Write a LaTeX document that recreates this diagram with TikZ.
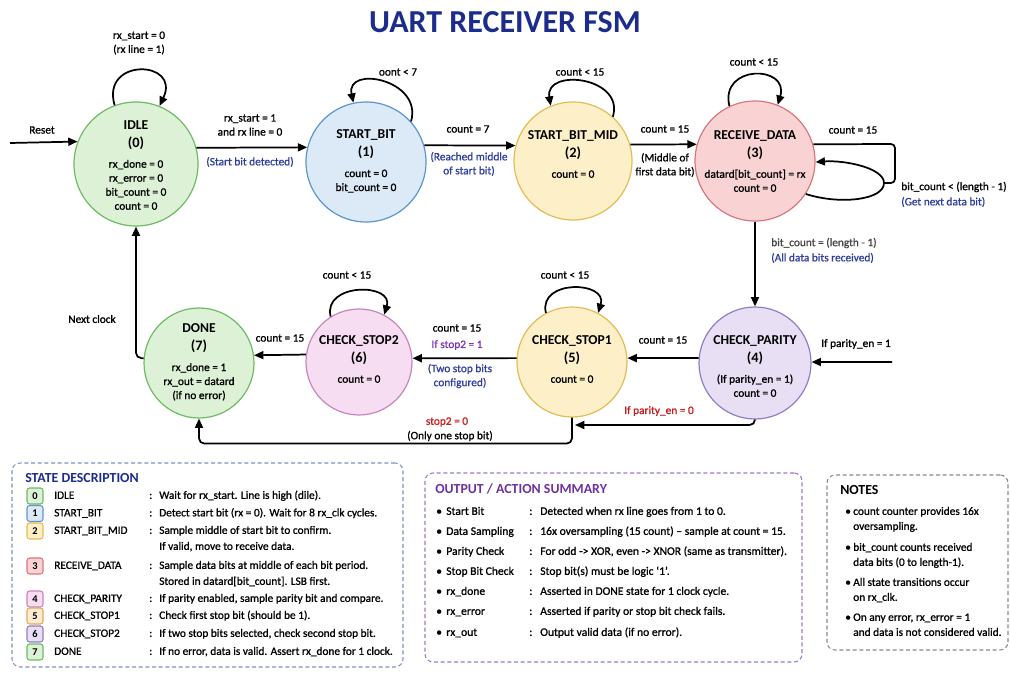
\documentclass[tikz,border=0pt]{standalone}
\usepackage{fontspec}
\setmainfont{Carlito}[UprightFeatures={FakeBold=1}]
\usetikzlibrary{arrows.meta}
\definecolor{titleblue}{HTML}{1C2C8C}
\definecolor{lblue}{HTML}{2F3E9E}
\definecolor{lpurple}{HTML}{7A35B0}
\definecolor{lred}{HTML}{C41E1E}
\definecolor{lgray}{HTML}{444444}
\definecolor{gfill}{HTML}{DDF1D6}\definecolor{gdraw}{HTML}{6DBB63}
\definecolor{bfill}{HTML}{DCEAF7}\definecolor{bdraw}{HTML}{5B96CF}
\definecolor{yfill}{HTML}{FDF0C8}\definecolor{ydraw}{HTML}{E2BC55}
\definecolor{rfill}{HTML}{F9D3D3}\definecolor{rdraw}{HTML}{D9777D}
\definecolor{pfill}{HTML}{E8DFF5}\definecolor{pdraw}{HTML}{8F7EC5}
\definecolor{kfill}{HTML}{F7DDF2}\definecolor{kdraw}{HTML}{C785BD}
\definecolor{ofill}{HTML}{FDEBD2}\definecolor{odraw}{HTML}{E3A85E}
\definecolor{descb}{HTML}{7F8FC4}
\definecolor{outb}{HTML}{9C7BC9}
\definecolor{noteb}{HTML}{8A8A8A}
\definecolor{outhead}{HTML}{7030A0}
\newcommand\stname{\fontsize{10.2}{12}\selectfont\bfseries}
\newcommand\stnum{\fontsize{10.8}{12}\selectfont\bfseries}
\begin{document}
\begin{tikzpicture}[x=0.75pt,y=-0.75pt,
  st/.style={circle, line width=0.9pt, inner sep=0pt},
  stt/.style={align=center, font=\fontsize{8.5}{10.5}\selectfont, inner sep=0pt},
  lbl/.style={align=center, font=\fontsize{8.5}{10.5}\selectfont, inner sep=0pt},
  arr/.style={-{Triangle[length=7pt,width=6pt]}, line width=1.3pt},
  line/.style={line width=1.3pt},
  box/.style={dash pattern=on 3pt off 2pt, rounded corners=6pt, line width=0.8pt, inner sep=0pt},
  badge/.style={rounded corners=2pt, minimum size=12pt, inner sep=0pt, line width=0.8pt, font=\fontsize{7.8}{9}\selectfont\bfseries},
  row/.style={anchor=west, inner sep=0pt, font=\fontsize{8.5}{10.5}\selectfont, text height=6.5pt, text depth=2.2pt, align=left},
  orow/.style={row, font=\fontsize{8.7}{10.5}\selectfont},
  head/.style={anchor=west, inner sep=0pt, font=\fontsize{10.4}{12}\selectfont\bfseries}
]
\useasboundingbox (0,0) rectangle (1010,673);

% title
\node[font=\fontsize{24}{28}\selectfont\bfseries, text=titleblue] (title) at (505,22) {UART RECEIVER FSM};

% states
\node[st, fill=gfill, draw=gdraw, minimum size=93pt] (idle) at (136,164) {};
\node[st, fill=bfill, draw=bdraw, minimum size=90pt] (sb) at (366,162) {};
\node[st, fill=yfill, draw=ydraw, minimum size=88.5pt] (mid) at (573,161) {};
\node[st, fill=rfill, draw=rdraw, minimum size=90pt] (rd) at (755,161) {};
\node[st, fill=pfill, draw=pdraw, minimum size=84pt] (pp) at (755,363) {};
\node[st, fill=yfill, draw=ydraw, minimum size=82.5pt] (s1) at (572,362) {};
\node[st, fill=kfill, draw=kdraw, minimum size=79.5pt] (s2) at (359,362) {};
\node[st, fill=gfill, draw=gdraw, minimum size=82.5pt] (done) at (199,363) {};

% state texts
\node[stt] (idle-t) at (136,165) {{\stname IDLE}\\[3pt]{\stnum (0)}\\[5pt]rx\_done = 0\\rx\_error = 0\\bit\_count = 0\\count = 0};
\node[stt] (sb-t) at (366,161) {{\stname START\_BIT}\\[3pt]{\stnum (1)}\\[5pt]count = 0\\bit\_count = 0};
\node[stt] (mid-t) at (573,154) {{\stname START\_BIT\_MID}\\[3pt]{\stnum (2)}\\[5pt]count = 0};
\node[stt] (rd-t) at (755,161) {{\stname RECEIVE\_DATA}\\[3pt]{\stnum (3)}\\[5pt]datard[bit\_count] = rx\\count = 0};
\node[stt] (pp-t) at (755,366) {{\stname CHECK\_PARITY}\\[3pt]{\stnum (4)}\\[5pt](If parity\_en = 1)\\count = 0};
\node[stt] (s1-t) at (572,359) {{\stname CHECK\_STOP1}\\[3pt]{\stnum (5)}\\[5pt]count = 0};
\node[stt] (s2-t) at (359,359) {{\stname CHECK\_STOP2}\\[3pt]{\stnum (6)}\\[5pt]count = 0};
\node[stt] (done-t) at (199,362) {{\stname DONE}\\[3pt]{\stnum (7)}\\[5pt]rx\_done = 1\\rx\_out = datard\\(if no error)};

% coordinates for free ends
\coordinate (reset) at (10,143);
\coordinate (pin) at (892,362);
\coordinate (rr1) at (895,144);
\coordinate (rr2) at (895,183);
\coordinate (rr3) at (884,183);
\coordinate (p0) at (575,425);

% connectors
\draw[arr] (reset) -- (idle.159);
\draw[arr] (idle.110) .. controls +(-14,-48) and +(22,-46) .. (idle.68);
\draw[arr] (idle.15) -- (sb.166);
\draw[arr] (sb.42) .. controls +(12,-42) and +(-8,-38) .. (sb.102);
\draw[arr] (sb.16) -- (mid.165);
\draw[arr] (mid.48) .. controls +(12,-40) and +(-6,-38) .. (mid.112);
\draw[arr] (mid.16) -- (rd.164);
\draw[arr] (rd.115) .. controls +(-10,-42) and +(12,-40) .. (rd.68);
\draw[line, rounded corners=3] (rd.16) -- (rr1) -- (rr2) -- (rr3);
\draw[arr] (rd.-33) .. controls (840,205) and (884,200) .. (rr3) .. controls (884,168) and (845,160) .. (rd.-1);
\draw[arr] (rd.south) -- (pp.north);
\draw[arr] (pin) -- (pp.1);
\draw[arr] (pp.175) -- (s1.4);
\draw[arr, rounded corners=4] (pp.south) |- (p0);
\draw[arr] (s1.118) .. controls +(-8,-34) and +(10,-32) .. (s1.62);
\draw[arr] (s1.176) -- (s2.4);
\draw[arr, rounded corners=4] (s1.south) -- ++(0,26) -| (done.south);
\draw[arr] (s2.122) .. controls +(-8,-34) and +(10,-32) .. (s2.62);
\draw[arr] (s2.172) -- (done.8);
\draw[arr, rounded corners=4] (done.175) -| (idle.south);

% edge labels
\node[lbl] (l-reset) at (42,130) {Reset};
\node[lbl] (l-iloop) at (139,43) {rx\_start = 0\\(rx line = 1)};
\node[lbl] (l-i2s) at (250,125) {rx\_start = 1\\and rx line = 0};
\node[lbl, text=lblue] (l-i2s-b) at (250,162) {(Start bit detected)};
\node[lbl] (l-sbloop) at (398,72) {oont < 7};
\node[lbl] (l-s2m) at (468,129) {count = 7};
\node[lbl, text=lblue] (l-s2m-b) at (469,164) {(Reached middle\\of start bit)};
\node[lbl] (l-midloop) at (580,72) {count < 15};
\node[lbl] (l-m2r) at (665,129) {count = 15};
\node[lbl] (l-m2r-b) at (665,165) {(Middle of\\first data bit)};
\node[lbl] (l-rdloop) at (754,62) {count < 15};
\node[lbl] (l-rdself) at (853,130) {count = 15};
\node[lbl, anchor=west] (l-rdself-b) at (901,187) {bit\_count < (length - 1)};
\node[lbl, anchor=west, text=lblue] (l-rdself-c) at (901,202) {(Get next data bit)};
\node[lbl, anchor=west, text=lgray] (l-r2p) at (771,243) {bit\_count = (length - 1)};
\node[lbl, anchor=west, text=lblue] (l-r2p-b) at (771,258) {(All data bits received)};
\node[lbl] (l-pin) at (856,344) {If parity\_en = 1};
\node[lbl] (l-p2s1) at (663,340) {count = 15};
\node[lbl, text=lred] (l-p2s1-b) at (659,411) {If parity\_en = 0};
\node[lbl] (l-s1loop) at (565,275) {count < 15};
\node[lbl] (l-s2loop) at (347,275) {count < 15};
\node[lbl] (l-s12) at (457,328) {count = 15};
\node[lbl, text=lpurple] (l-s12-b) at (457,345) {If stop2 = 1};
\node[lbl, text=lblue] (l-s12-c) at (460,376) {(Two stop bits\\configured)};
\node[lbl, text=lred] (l-s1d) at (447,422) {stop2 = 0};
\node[lbl] (l-s1d-b) at (450,436) {(Only one stop bit)};
\node[lbl] (l-s2d) at (280,338) {count = 15};
\node[lbl] (l-next) at (92,319) {Next clock};

% ---------- state description box
\node[box, draw=descb, minimum width=293.25pt, minimum height=153pt] (descbox) at (207.5,565) {};
\node[head, text=titleblue] (deschead) at (25,478) {STATE DESCRIPTION};
\node[badge, fill=gfill, draw=gdraw] (b0) at (35,496) {0};
\node[badge, fill=bfill, draw=bdraw] (b1) at (35,513.5) {1};
\node[badge, fill=yfill, draw=ydraw] (b2) at (35,531) {2};
\node[badge, fill=rfill, draw=rdraw] (b3) at (35,566) {3};
\node[badge, fill=kfill, draw=kdraw] (b4) at (35,599) {4};
\node[badge, fill=ofill, draw=odraw] (b5) at (35,616) {5};
\node[badge, fill=pfill, draw=pdraw] (b6) at (35,634) {6};
\node[badge, fill=gfill, draw=gdraw] (b7) at (35,652) {7};
\node[row] (n0) at (54,496) {IDLE};
\node[row] (n1) at (54,513.5) {START\_BIT};
\node[row] (n2) at (54,531) {START\_BIT\_MID};
\node[row] (n3) at (54,566) {RECEIVE\_DATA};
\node[row] (n4) at (54,599) {CHECK\_PARITY};
\node[row] (n5) at (54,616) {CHECK\_STOP1};
\node[row] (n6) at (54,634) {CHECK\_STOP2};
\node[row] (n7) at (54,652) {DONE};
\node[row] (c0) at (149,496) {:};
\node[row] (c1) at (149,513.5) {:};
\node[row] (c2) at (149,531) {:};
\node[row] (c3) at (149,566) {:};
\node[row] (c4) at (149,599) {:};
\node[row] (c5) at (149,616) {:};
\node[row] (c6) at (149,634) {:};
\node[row] (c7) at (149,652) {:};
\node[row] (d0) at (159,496) {Wait for rx\_start. Line is high (dile).};
\node[row] (d1) at (159,513.5) {Detect start bit (rx = 0). Wait for 8 rx\_clk cycles.};
\node[row] (d2) at (159,531) {Sample middle of start bit to confirm.};
\node[row] (d2b) at (159,547) {If valid, move to receive data.};
\node[row] (d3) at (159,566) {Sample data bits at middle of each bit period.};
\node[row] (d3b) at (159,582) {Stored in datard[bit\_count]. LSB first.};
\node[row] (d4) at (159,599) {If parity enabled, sample parity bit and compare.};
\node[row] (d5) at (159,616) {Check first stop bit (should be 1).};
\node[row] (d6) at (159,634) {If two stop bits selected, check second stop bit.};
\node[row] (d7) at (159,652) {If no error, data is valid. Assert rx\_done for 1 clock.};

% ---------- output / action summary
\node[box, draw=outb, minimum width=282.75pt, minimum height=141.75pt] (outbox) at (613.5,567.5) {};
\node[head, text=outhead] (outhead) at (435,489) {OUTPUT / ACTION SUMMARY};
\node[orow] (ob1) at (436,512) {\textbullet};
\node[orow] (ob2) at (436,532) {\textbullet};
\node[orow] (ob3) at (436,552) {\textbullet};
\node[orow] (ob4) at (436,572) {\textbullet};
\node[orow] (ob5) at (436,592) {\textbullet};
\node[orow] (ob6) at (436,612) {\textbullet};
\node[orow] (ob7) at (436,633) {\textbullet};
\node[orow] (on1) at (446,512) {Start Bit};
\node[orow] (on2) at (446,532) {Data Sampling};
\node[orow] (on3) at (446,552) {Parity Check};
\node[orow] (on4) at (446,572) {Stop Bit Check};
\node[orow] (on5) at (446,592) {rx\_done};
\node[orow] (on6) at (446,612) {rx\_error};
\node[orow] (on7) at (446,633) {rx\_out};
\node[orow] (oc1) at (529,512) {:};
\node[orow] (oc2) at (529,532) {:};
\node[orow] (oc3) at (529,552) {:};
\node[orow] (oc4) at (529,572) {:};
\node[orow] (oc5) at (529,592) {:};
\node[orow] (oc6) at (529,612) {:};
\node[orow] (oc7) at (529,633) {:};
\node[orow] (od1) at (540,512) {Detected when rx line goes from 1 to 0.};
\node[orow] (od2) at (540,532) {16x oversampling (15 count) -- sample at count = 15.};
\node[orow] (od3) at (540,552) {For odd -> XOR, even -> XNOR (same as transmitter).};
\node[orow] (od4) at (540,572) {Stop bit(s) must be logic `1'.};
\node[orow] (od5) at (540,592) {Asserted in DONE state for 1 clock cycle.};
\node[orow] (od6) at (540,612) {Asserted if parity or stop bit check fails.};
\node[orow] (od7) at (540,633) {Output valid data (if no error).};

% ---------- notes
\node[box, draw=noteb, minimum width=135.75pt, minimum height=131.25pt] (notebox) at (917.5,562.5) {};
\node[head] (notehead) at (840,490) {NOTES};
\node[row] (nb1) at (845,512) {\textbullet};
\node[row] (nb2) at (845,548) {\textbullet};
\node[row] (nb3) at (845,583) {\textbullet};
\node[row] (nb4) at (845,618) {\textbullet};
\node[row] (nt1a) at (853,512) {count counter provides 16x};
\node[row] (nt1b) at (853,527) {oversampling.};
\node[row] (nt2a) at (853,548) {bit\_count counts received};
\node[row] (nt2b) at (853,563) {data bits (0 to length-1).};
\node[row] (nt3a) at (853,583) {All state transitions occur};
\node[row] (nt3b) at (853,598) {on rx\_clk.};
\node[row] (nt4a) at (853,618) {On any error, rx\_error = 1};
\node[row] (nt4b) at (853,633) {and data is not considered valid.};
\end{tikzpicture}
\end{document}
